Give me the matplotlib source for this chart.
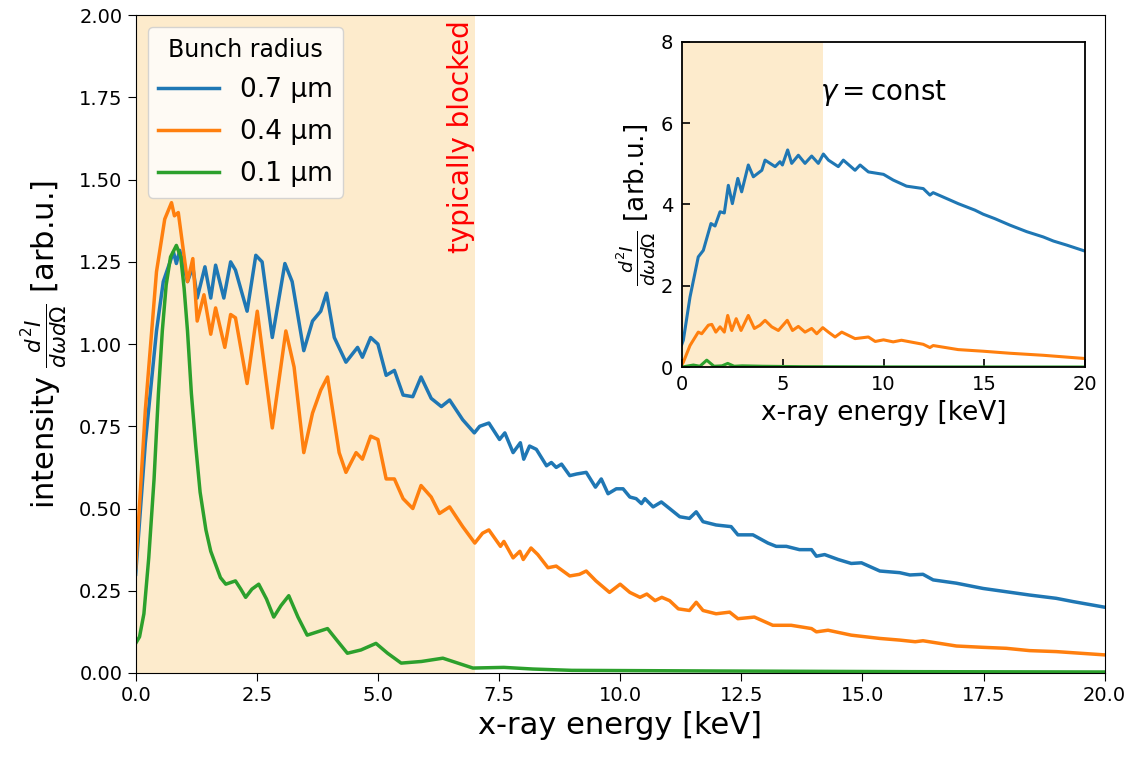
import numpy as np
import matplotlib
matplotlib.use("Agg")
import matplotlib.pyplot as plt

# ---- Data ----
# main panel, bunch radius 0.7 um
e_07 = [0, 0.2, 0.43, 0.57, 0.78, 0.84, 0.91, 1.07, 1.18, 1.27,
        1.43, 1.55, 1.65, 1.82, 1.96, 2.06, 2.30, 2.48, 2.61, 2.82,
        3.08, 3.23, 3.47, 3.65, 3.82, 3.94, 4.10, 4.34, 4.58, 4.68,
        4.85, 5.0, 5.17, 5.34, 5.52, 5.72, 5.89, 6.10, 6.31, 6.48,
        6.75, 6.99, 7.1, 7.29, 7.51, 7.62, 7.79, 7.94, 8.01, 8.13,
        8.27, 8.48, 8.58, 8.68, 8.79, 8.96, 9.10, 9.30, 9.49, 9.61,
        9.75, 9.92, 10.06, 10.2, 10.33, 10.44, 10.51, 10.68, 10.85, 11.02,
        11.23, 11.43, 11.57, 11.71, 11.98, 12.29, 12.43, 12.74, 13.05, 13.22,
        13.43, 13.7, 13.95, 14.05, 14.22, 14.5, 14.77, 14.98, 15.36, 15.77,
        15.98, 16.25, 16.46, 16.94, 17.49, 17.97, 18.45, 19.0, 19.35, 20.0]
i_07 = [0.30, 0.70, 1.04, 1.19, 1.28, 1.245, 1.285, 1.19, 1.235, 1.14,
        1.235, 1.14, 1.24, 1.14, 1.25, 1.225, 1.10, 1.27, 1.25, 1.02,
        1.245, 1.19, 0.98, 1.07, 1.10, 1.155, 1.02, 0.945, 0.99, 0.96,
        1.02, 1.00, 0.905, 0.92, 0.845, 0.84, 0.90, 0.835, 0.81, 0.83,
        0.77, 0.73, 0.75, 0.76, 0.71, 0.73, 0.67, 0.70, 0.65, 0.69,
        0.68, 0.63, 0.64, 0.625, 0.635, 0.60, 0.605, 0.61, 0.565, 0.59,
        0.545, 0.56, 0.56, 0.535, 0.53, 0.515, 0.53, 0.505, 0.52, 0.50,
        0.475, 0.47, 0.49, 0.46, 0.45, 0.445, 0.42, 0.42, 0.395, 0.385,
        0.385, 0.375, 0.375, 0.355, 0.36, 0.345, 0.333, 0.335, 0.31, 0.305,
        0.298, 0.30, 0.283, 0.273, 0.257, 0.247, 0.237, 0.227, 0.217, 0.20]

# main panel, bunch radius 0.4 um
e_04 = [0, 0.2, 0.43, 0.6, 0.74, 0.80, 0.88, 1.07, 1.18, 1.27,
        1.41, 1.55, 1.65, 1.84, 1.96, 2.06, 2.30, 2.51, 2.82, 3.10,
        3.27, 3.47, 3.65, 3.82, 3.96, 4.20, 4.34, 4.55, 4.68, 4.85,
        5.0, 5.17, 5.34, 5.52, 5.72, 5.89, 6.10, 6.27, 6.48, 6.75,
        7.0, 7.16, 7.29, 7.53, 7.60, 7.79, 7.93, 8.0, 8.16, 8.30,
        8.51, 8.68, 8.96, 9.16, 9.30, 9.5, 9.78, 10.0, 10.2, 10.41,
        10.55, 10.72, 10.86, 11.02, 11.2, 11.43, 11.57, 11.71, 11.98, 12.26,
        12.43, 12.77, 13.15, 13.53, 13.95, 14.05, 14.29, 14.77, 15.36, 15.77,
        16.09, 16.25, 16.94, 17.49, 17.97, 18.45, 19.0, 20.0]
i_04 = [0.32, 0.80, 1.22, 1.38, 1.43, 1.39, 1.40, 1.19, 1.26, 1.07,
        1.15, 1.03, 1.11, 0.99, 1.09, 1.08, 0.88, 1.10, 0.745, 1.04,
        0.93, 0.67, 0.79, 0.86, 0.90, 0.67, 0.61, 0.67, 0.65, 0.72,
        0.71, 0.59, 0.59, 0.53, 0.50, 0.57, 0.535, 0.485, 0.505, 0.445,
        0.395, 0.425, 0.435, 0.385, 0.40, 0.35, 0.37, 0.345, 0.38, 0.36,
        0.32, 0.325, 0.295, 0.30, 0.31, 0.28, 0.245, 0.27, 0.245, 0.23,
        0.24, 0.22, 0.23, 0.22, 0.195, 0.19, 0.215, 0.19, 0.18, 0.185,
        0.165, 0.17, 0.145, 0.145, 0.135, 0.125, 0.13, 0.115, 0.105, 0.10,
        0.095, 0.098, 0.082, 0.078, 0.075, 0.068, 0.065, 0.055]

# main panel, bunch radius 0.1 um
e_01 = [0, 0.08, 0.17, 0.27, 0.38, 0.47, 0.55, 0.63, 0.72, 0.84,
        0.93, 1.0, 1.07, 1.15, 1.24, 1.33, 1.45, 1.55, 1.65, 1.75,
        1.86, 1.96, 2.06, 2.17, 2.27, 2.40, 2.54, 2.70, 2.85, 3.00,
        3.16, 3.35, 3.54, 3.75, 3.96, 4.15, 4.37, 4.65, 4.96, 5.20,
        5.48, 5.90, 6.34, 6.65, 6.96, 7.6, 8.2, 9.0, 12.0, 16.0,
        20.0]
i_01 = [0.09, 0.11, 0.18, 0.35, 0.59, 0.85, 1.04, 1.18, 1.265, 1.30,
        1.265, 1.17, 1.04, 0.85, 0.69, 0.55, 0.435, 0.37, 0.33, 0.29,
        0.27, 0.275, 0.28, 0.255, 0.23, 0.255, 0.27, 0.225, 0.17, 0.205,
        0.235, 0.17, 0.115, 0.125, 0.135, 0.10, 0.06, 0.07, 0.09, 0.06,
        0.03, 0.035, 0.045, 0.03, 0.015, 0.017, 0.012, 0.008, 0.006, 0.004,
        0.003]

# inset (gamma = const)
ins_e_07 = [0, 0.08, 0.41, 0.82, 1.07, 1.45, 1.65, 1.90, 2.11, 2.31,
            2.51, 2.78, 2.97, 3.30, 3.55, 3.97, 4.13, 4.63, 4.87, 4.99,
            5.25, 5.45, 5.78, 6.11, 6.44, 6.77, 7.02, 7.27, 7.76, 8.01,
            8.59, 8.84, 9.25, 10.0, 10.48, 11.14, 11.97, 12.3, 12.46, 13.29,
            13.7, 14.53, 14.94, 15.52, 16.27, 17.1, 17.92, 18.42, 19.08, 20.0]
ins_i_07 = [0.55, 0.66, 1.72, 2.71, 2.87, 3.53, 3.47, 3.82, 3.79, 4.47,
            4.02, 4.64, 4.31, 4.97, 4.68, 4.84, 5.09, 4.93, 5.05, 4.97,
            5.34, 5.01, 5.21, 5.01, 5.19, 5.01, 5.24, 5.09, 4.93, 5.09,
            4.84, 4.97, 4.80, 4.74, 4.60, 4.45, 4.39, 4.23, 4.29, 4.11,
            4.02, 3.86, 3.76, 3.65, 3.49, 3.33, 3.20, 3.10, 3.00, 2.85]
ins_e_04 = [0, 0.08, 0.41, 0.82, 0.99, 1.32, 1.49, 1.69, 1.90, 2.11,
            2.28, 2.48, 2.70, 2.94, 3.30, 3.60, 3.88, 4.13, 4.46, 4.79,
            5.23, 5.49, 5.78, 6.11, 6.44, 6.69, 6.99, 7.27, 7.60, 7.93,
            8.59, 9.25, 9.59, 10.0, 10.48, 10.89, 11.97, 12.3, 12.46, 13.7,
            14.94, 16.27, 17.92, 20.0]
ins_i_04 = [0.05, 0.12, 0.53, 0.86, 0.82, 1.03, 1.05, 0.86, 0.99, 0.86,
            1.27, 0.90, 1.19, 0.90, 1.27, 0.95, 1.03, 1.15, 0.99, 0.90,
            1.15, 0.90, 1.0, 0.86, 0.95, 0.82, 0.97, 0.86, 0.74, 0.86,
            0.70, 0.74, 0.63, 0.67, 0.62, 0.66, 0.56, 0.48, 0.53, 0.43,
            0.39, 0.34, 0.29, 0.21]
ins_e_01 = [0, 0.58, 0.9, 1.24, 1.6, 2.0, 2.28, 2.6, 3.0, 4.0, 6.0, 10.0, 20.0]
ins_i_01 = [0.0, 0.05, 0.02, 0.17, 0.02, 0.03, 0.09, 0.02, 0.03, 0.02, 0.01, 0.005, 0.002]

labels = ["0.7 µm", "0.4 µm", "0.1 µm"]
colors = ["#1f77b4", "#ff7f0e", "#2ca02c"]
blocked_edge = 7.0
shade = "#fdebcc"

# ---- Main plot ----
fig = plt.figure(figsize=(11.4, 7.6), dpi=100)
ax = fig.add_axes([0.119, 0.1145, 0.850, 0.8655])

ax.axvspan(0, blocked_edge, color=shade, lw=0, zorder=0)
for e, i, lab, c in zip([e_07, e_04, e_01], [i_07, i_04, i_01], labels, colors):
    ax.plot(e, i, color=c, lw=2.5, label=lab)

ax.set_xlim(0, 20)
ax.set_ylim(0, 2)
ax.set_xticks(np.arange(0, 20.1, 2.5))
ax.set_yticks(np.arange(0, 2.01, 0.25))
ax.xaxis.set_major_formatter(matplotlib.ticker.FormatStrFormatter("%.1f"))
ax.yaxis.set_major_formatter(matplotlib.ticker.FormatStrFormatter("%.2f"))
ax.tick_params(labelsize=14, length=6)
ax.set_xlabel("x-ray energy [keV]", fontsize=22, labelpad=4)
ax.set_ylabel(r"intensity $\frac{d^2I}{d\omega d\Omega}$ [arb.u.]", fontsize=22, labelpad=6)

ax.text(6.72, 1.985, "typically blocked", color="red", rotation=90,
        ha="center", va="top", fontsize=20)

leg = ax.legend(title="Bunch radius", loc="upper left", fontsize=19,
                title_fontsize=17, handlelength=2.3, borderaxespad=0.45,
                labelspacing=0.6)

# ---- Inset ----
ins = fig.add_axes([0.598, 0.517, 0.354, 0.428])
ins.axvspan(0, blocked_edge, color=shade, lw=0, zorder=0)
for e, i, c in zip([ins_e_07, ins_e_04, ins_e_01], [ins_i_07, ins_i_04, ins_i_01], colors):
    ins.plot(e, i, color=c, lw=2.2)
ins.set_xlim(0, 20)
ins.set_ylim(0, 8)
ins.set_xticks([0, 5, 10, 15, 20])
ins.set_yticks([0, 2, 4, 6, 8])
ins.tick_params(direction="in", labelsize=14, length=6, width=1.2, pad=6)
for s in ins.spines.values():
    s.set_linewidth(1.3)
ins.set_xlabel("x-ray energy [keV]", fontsize=19, labelpad=4)
ins.set_ylabel(r"$\frac{d^2I}{d\omega d\Omega}$ [arb.u.]", fontsize=19, labelpad=2)
ins.text(10, 6.75, r"$\gamma = $const", fontsize=20, ha="center", va="center")

fig.savefig("out.png", dpi=100)
